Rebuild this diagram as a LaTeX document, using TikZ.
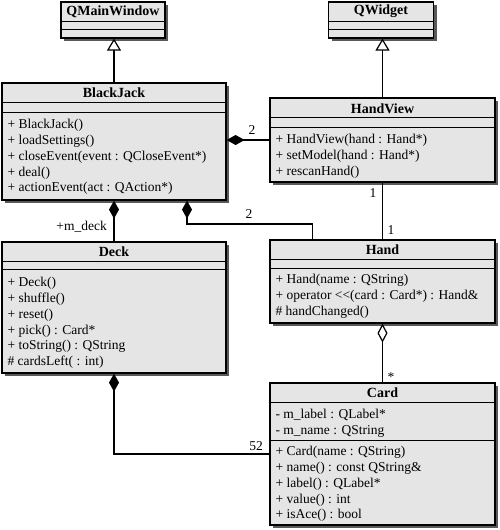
\documentclass[tikz,border=0pt]{standalone}
\usepackage{fontspec}
\setmainfont{Liberation Serif}
\usetikzlibrary{arrows.meta,shadows}

\definecolor{classfill}{gray}{0.9}
\definecolor{shadowgray}{gray}{0.35}

\tikzset{
  classbox/.style={draw, fill=classfill, line width=1.2pt, inner sep=0pt,
    drop shadow={shadow xshift=3pt, shadow yshift=-3pt, fill=shadowgray, opacity=1}},
  classname/.style={font=\bfseries\fontsize{14}{16}\selectfont, inner sep=0pt},
  members/.style={anchor=north west, align=left, inner sep=0pt,
    font=\fontsize{13.5}{15.7}\selectfont},
  mult/.style={font=\fontsize{13.5}{15}\selectfont, inner sep=0pt},
  sep/.style={line width=1.2pt},
  link/.style={line width=1.4pt},
  inherit/.style={link, -{Triangle[open, width=14pt, length=12pt, fill=white, line width=1.2pt]}},
  compose/.style={link, -{Diamond[width=10pt, length=18pt]}},
  aggregate/.style={link, -{Diamond[open, width=10pt, length=19pt, fill=white, line width=1.2pt]}}
}

\begin{document}
\begin{tikzpicture}[x=1pt,y=-1pt]
      \useasboundingbox (0,0) rectangle (500,530);

      % QMainWindow
      \node[classbox, minimum width=104pt, minimum height=36pt] (mainwin) at (113,20) {};
      \node[classname] (mainwintitle) at ([yshift=-10pt]mainwin.north) {QMainWindow};
      \draw[sep] ([yshift=-20pt]mainwin.north west) -- ([yshift=-20pt]mainwin.north east);
      \draw[sep] ([yshift=-28pt]mainwin.north west) -- ([yshift=-28pt]mainwin.north east);

      % QWidget
      \node[classbox, minimum width=105pt, minimum height=36pt] (qwidget) at (381,20) {};
      \node[classname] (qwidgettitle) at ([yshift=-10pt]qwidget.north) {QWidget};
      \draw[sep] ([yshift=-20pt]qwidget.north west) -- ([yshift=-20pt]qwidget.north east);
      \draw[sep] ([yshift=-28pt]qwidget.north west) -- ([yshift=-28pt]qwidget.north east);

      % BlackJack
      \node[classbox, minimum width=224pt, minimum height=117pt] (blackjack) at (114,141.5) {};
      \node[classname] (blackjacktitle) at ([yshift=-10pt]blackjack.north) {BlackJack};
      \draw[sep] ([yshift=-20pt]blackjack.north west) -- ([yshift=-20pt]blackjack.north east);
      \draw[sep] ([yshift=-30pt]blackjack.north west) -- ([yshift=-30pt]blackjack.north east);
      \node[members] (blackjackops) at ([xshift=6pt,yshift=-37pt]blackjack.north west)
        {+ BlackJack()\\+ loadSettings()\\+ closeEvent(event : QCloseEvent*)\\+ deal()\\+ actionEvent(act : QAction*)};

      % HandView
      \node[classbox, minimum width=225pt, minimum height=84pt] (handview) at (382.5,140) {};
      \node[classname] (handviewtitle) at ([yshift=-11pt]handview.north) {HandView};
      \draw[sep] ([yshift=-20pt]handview.north west) -- ([yshift=-20pt]handview.north east);
      \draw[sep] ([yshift=-30pt]handview.north west) -- ([yshift=-30pt]handview.north east);
      \node[members] (handviewops) at ([xshift=6pt,yshift=-37pt]handview.north west)
        {+ HandView(hand : Hand*)\\+ setModel(hand : Hand*)\\+ rescanHand()};

      % Deck
      \node[classbox, minimum width=224pt, minimum height=131pt] (deck) at (114,307.5) {};
      \node[classname] (decktitle) at ([yshift=-10pt]deck.north) {Deck};
      \draw[sep] ([yshift=-20pt]deck.north west) -- ([yshift=-20pt]deck.north east);
      \draw[sep] ([yshift=-28pt]deck.north west) -- ([yshift=-28pt]deck.north east);
      \node[members] (deckops) at ([xshift=6pt,yshift=-36pt]deck.north west)
        {+ Deck()\\+ shuffle()\\+ reset()\\+ pick() : Card*\\+ toString() : QString\\\# cardsLeft( : int)};

      % Hand
      \node[classbox, minimum width=225pt, minimum height=83pt] (hand) at (382.5,281.5) {};
      \node[classname] (handtitle) at ([yshift=-10pt]hand.north) {Hand};
      \draw[sep] ([yshift=-20pt]hand.north west) -- ([yshift=-20pt]hand.north east);
      \draw[sep] ([yshift=-29pt]hand.north west) -- ([yshift=-29pt]hand.north east);
      \node[members] (handops) at ([xshift=6pt,yshift=-35pt]hand.north west)
        {+ Hand(name : QString)\\+ operator <{}<(card : Card*) : Hand\&\\\# handChanged()};

      % Card
      \node[classbox, minimum width=225pt, minimum height=142pt] (card) at (382.5,454) {};
      \node[classname] (cardtitle) at ([yshift=-10pt]card.north) {Card};
      \draw[sep] ([yshift=-20pt]card.north west) -- ([yshift=-20pt]card.north east);
      \draw[sep] ([yshift=-58pt]card.north west) -- ([yshift=-58pt]card.north east);
      \node[members] (cardattrs) at ([xshift=6pt,yshift=-27pt]card.north west)
        {- m\_label : QLabel*\\- m\_name : QString};
      \node[members] (cardops) at ([xshift=6pt,yshift=-64pt]card.north west)
        {+ Card(name : QString)\\+ name() : const QString\&\\+ label() : QLabel*\\+ value() : int\\+ isAce() : bool};

      % generalisation
      \draw[inherit] (blackjack.north) -- (blackjack.north |- mainwin.south);
      \draw[inherit] (handview.north) -- (handview.north |- qwidget.south);

      % associations
      \coordinate (bjhand) at ([xshift=73pt]blackjack.south);
      \coordinate (handtop) at ([xshift=43pt]hand.north west);
      \coordinate (bjbend) at (187,224);
      \draw[compose] (handview.west) -- (handview.west -| blackjack.east);
      \draw[compose] (deck.north) -- (blackjack.south);
      \draw[compose] (handtop) |- (bjbend) -- (bjhand);
      \draw[link] (handview.south) -- (hand.north);
      \draw[aggregate] (card.north) -- (hand.south);
      \draw[compose] (card.west) -| (deck.south);

      % multiplicities
      \node[mult] (hvcount) at (252,130) {2};
      \node[mult, anchor=east] (deckrole) at (107,227) {+m\_deck};
      \node[mult] (handcount) at (249,214) {2};
      \node[mult] (hvone) at (373,193) {1};
      \node[mult] (handone) at (391,230) {1};
      \node[mult] (cardmany) at (391,377) {*};
      \node[mult] (cardcount) at (256,446) {52};
    \end{tikzpicture}
\end{document}
